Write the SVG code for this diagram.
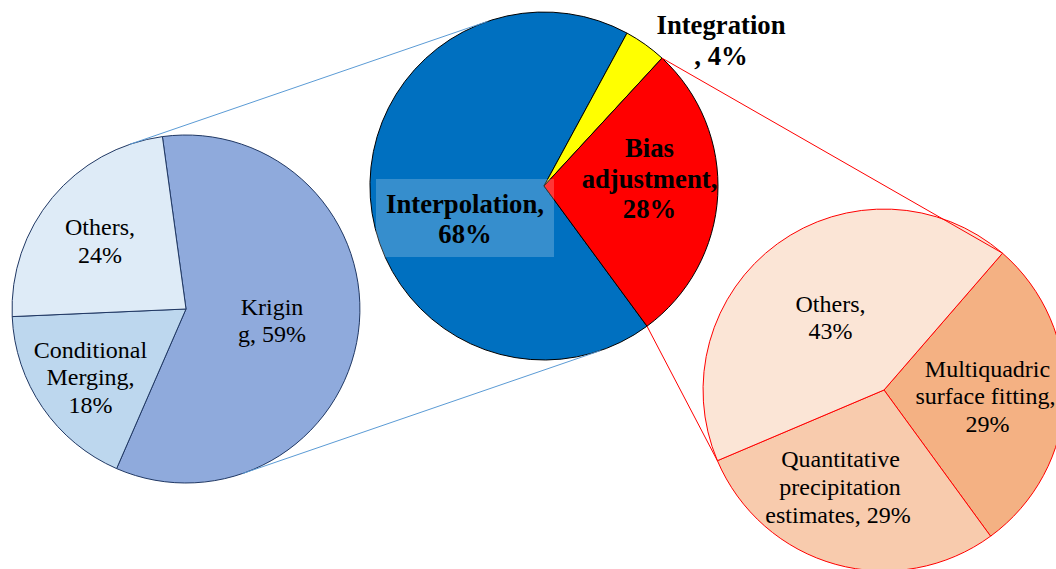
<svg xmlns="http://www.w3.org/2000/svg" width="1056" height="569" viewBox="0 0 1056 569">
  <style>
    .lbl { font-family: "Liberation Serif", "Times New Roman", serif; fill: #000; text-anchor: middle; }
    .main { font-size: 26.7px; font-weight: bold; }
    .sub { font-size: 24px; }
    .main-slice { stroke: #000; stroke-width: 1; stroke-linejoin: round; }
    .left-slice { stroke: #203864; stroke-width: 1; stroke-linejoin: round; }
    .right-slice { stroke: #FF0000; stroke-width: 1; stroke-linejoin: round; }
    .blue-link { stroke: #5B9BD5; stroke-width: 1; fill: none; }
    .red-link { stroke: #FF0000; stroke-width: 1; fill: none; }
  </style>
  <rect width="1056" height="569" fill="#fff"/>

  <!-- main pie: method categories -->
  <g id="main-pie">
    <path id="slice-interpolation" class="main-slice" fill="#0070C0" d="M544,186 L647,326.2 A174,174 0 1 1 627,33.1 Z"/>
    <path id="slice-integration" class="main-slice" fill="#FFFF00" d="M544,186 L627,33.1 A174,174 0 0 1 662,58.1 Z"/>
    <path id="slice-bias" class="main-slice" fill="#FF0000" d="M544,186 L662,58.1 A174,174 0 0 1 647,326.2 Z"/>
    <rect x="376" y="179" width="178" height="78" fill="#fff" fill-opacity="0.21"/>
    <text class="lbl main" x="465" y="213">Interpolation,</text>
    <text class="lbl main" x="465" y="243">68%</text>
    <text class="lbl main" x="649.5" y="157">Bias</text>
    <text class="lbl main" x="649.5" y="188">adjustment,</text>
    <text class="lbl main" x="649.5" y="218">28%</text>
    <text class="lbl main" x="721" y="34">Integration</text>
    <text class="lbl main" x="721" y="65">, 4%</text>
  </g>

  <!-- interpolation breakdown -->
  <g id="left-pie">
    <path id="slice-kriging" class="left-slice" fill="#8FAADC" d="M186,309 L162.4,136.6 A174,174 0 1 1 116.6,468.6 Z"/>
    <path id="slice-conditional" class="left-slice" fill="#BDD7EE" d="M186,309 L116.6,468.6 A174,174 0 0 1 12.2,316.6 Z"/>
    <path id="slice-left-others" class="left-slice" fill="#DEEBF7" d="M186,309 L12.2,316.6 A174,174 0 0 1 162.4,136.6 Z"/>
    <text class="lbl sub" x="100" y="235">Others,</text>
    <text class="lbl sub" x="100" y="262.5">24%</text>
    <text class="lbl sub" x="90.5" y="357.5">Conditional</text>
    <text class="lbl sub" x="90.5" y="385">Merging,</text>
    <text class="lbl sub" x="90.5" y="413">18%</text>
    <text class="lbl sub" x="272" y="315">Krigin</text>
    <text class="lbl sub" x="272" y="341.5">g, 59%</text>
  </g>

  <!-- bias adjustment breakdown -->
  <g id="right-pie">
    <path id="slice-multiquadric" class="right-slice" fill="#F4B183" d="M884,390 L1002.5,253.2 A181,181 0 0 1 990.6,536.2 Z"/>
    <path id="slice-qpe" class="right-slice" fill="#F8CBAD" d="M884,390 L990.6,536.2 A181,181 0 0 1 717.4,460.7 Z"/>
    <path id="slice-right-others" class="right-slice" fill="#FBE5D6" d="M884,390 L717.4,460.7 A181,181 0 0 1 1002.5,253.2 Z"/>
    <text class="lbl sub" x="830.5" y="311.5">Others,</text>
    <text class="lbl sub" x="830.5" y="338.5">43%</text>
    <text class="lbl sub" x="987.5" y="376.5">Multiquadric</text>
    <text class="lbl sub" x="985.5" y="403.5">surface fitting,</text>
    <text class="lbl sub" x="987.5" y="431.5">29%</text>
    <text class="lbl sub" x="840.5" y="466.5">Quantitative</text>
    <text class="lbl sub" x="840" y="495">precipitation</text>
    <text class="lbl sub" x="838" y="523">estimates, 29%</text>
  </g>

  <!-- zoom-out connectors -->
  <g id="connectors">
    <line class="blue-link" x1="129.5" y1="144.4" x2="487.5" y2="21.4"/>
    <line class="blue-link" x1="242.5" y1="473.6" x2="600.5" y2="350.6"/>
    <line class="red-link" x1="662" y1="58.1" x2="1002.5" y2="253.2"/>
    <line class="red-link" x1="647" y1="326.2" x2="717.4" y2="460.7"/>
  </g>
</svg>
